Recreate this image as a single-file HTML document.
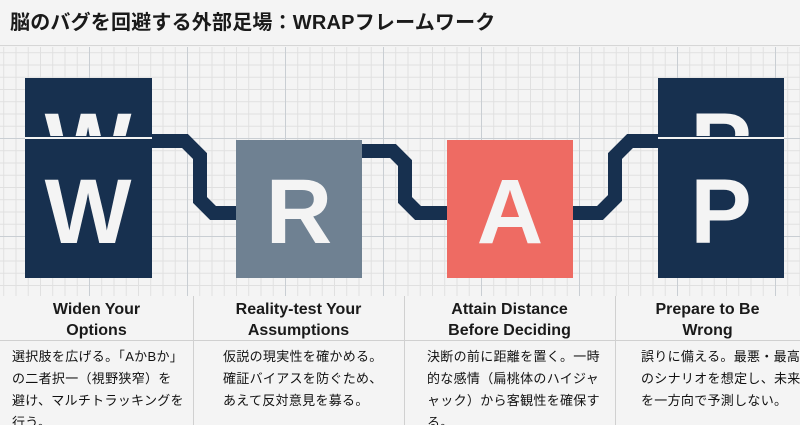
<!DOCTYPE html>
<html><head><meta charset="utf-8"><style>
*{margin:0;padding:0;box-sizing:border-box}
html,body{width:800px;height:425px;overflow:hidden}
body{background:#f3f3f3;font-family:"Liberation Sans","Noto Sans CJK JP",sans-serif;position:relative}
.title{position:absolute;left:0;top:0;width:800px;height:46px;background:#f4f4f4;border-bottom:1px solid #d6d6d6;font-weight:bold;font-size:20px;line-height:46px;padding-left:10px;color:#1a1a1a;letter-spacing:0.2px}
.grid{position:absolute;left:0;top:47px;width:800px;height:378px;
background-color:#f4f4f4;
background-image:linear-gradient(#c9ced3 1px,transparent 1px),linear-gradient(90deg,#c9ced3 1px,transparent 1px),linear-gradient(#e0e0e0 1px,transparent 1px),linear-gradient(90deg,#e0e0e0 1px,transparent 1px);
background-size:98px 98px,98px 98px,12.25px 12.25px,12.25px 12.25px;background-position:-9px -7px,-9px -7px,-9px -7px,-9px -7px}
.bottom{position:absolute;left:0;top:296px;width:800px;height:129px;background:#f4f4f4}
.h{position:absolute;top:0;height:44px;text-align:center;font-weight:bold;font-size:16px;line-height:21px;color:#1a1a1a;padding-top:3px}
.b{position:absolute;font-size:13px;letter-spacing:0.3px;line-height:22px;color:#111;white-space:nowrap}
.vl{position:absolute;top:296px;width:1px;height:129px;background:#d0d0d0}
</style></head><body>
<div class="title">脳のバグを回避する外部足場：WRAPフレームワーク</div>
<div class="grid"></div>
<svg style="position:absolute;left:0;top:0" width="800" height="300">
<g fill="none" stroke="#17304f" stroke-width="14" stroke-linejoin="miter">
<path d="M150 141 H185 L200 156 V200 L213 213 H238"/>
<path d="M360 151 H393 L405 163 V200 L418 213 H449"/>
<path d="M571 213 H600 L615 198 V156 L630 141 H660"/>
</g>
<rect x="25" y="78" width="127" height="200" fill="#17304f"/>
<rect x="658" y="78" width="126" height="200" fill="#17304f"/>
<rect x="236" y="140" width="126" height="138" fill="#6f8192"/>
<rect x="447" y="140" width="126" height="138" fill="#ee6b63"/>
<clipPath id="c1"><rect x="25" y="78" width="127" height="58"/></clipPath>
<clipPath id="c2"><rect x="658" y="78" width="126" height="58"/></clipPath>
<g font-family="Liberation Sans,sans-serif" font-weight="bold" font-size="92" fill="#f4f4f4" text-anchor="middle">
<text x="88" y="177" clip-path="url(#c1)">W</text>
<text x="721" y="177" clip-path="url(#c2)">P</text>
<text x="88" y="243">W</text>
<text x="299" y="243">R</text>
<text x="510" y="243">A</text>
<text x="721" y="243">P</text>
</g>
<rect x="25" y="137" width="127" height="2" fill="#f4f4f4"/>
<rect x="658" y="137" width="126" height="2" fill="#f4f4f4"/>
</svg>
<div class="bottom"></div>
<div style="position:absolute;left:0;top:340px;width:800px;height:1px;background:#d0d0d0"></div>
<div class="vl" style="left:193px"></div><div class="vl" style="left:404px"></div><div class="vl" style="left:615px"></div>
<div class="h" style="left:0;width:193px;top:296px">Widen Your<br>Options</div>
<div class="h" style="left:193px;width:211px;top:296px">Reality-test Your<br>Assumptions</div>
<div class="h" style="left:404px;width:211px;top:296px">Attain Distance<br>Before Deciding</div>
<div class="h" style="left:615px;width:185px;top:296px">Prepare to Be<br>Wrong</div>
<div class="b" style="left:12px;top:346px">選択肢を広げる。「AかBか」<br>の二者択一（視野狭窄）を<br>避け、マルチトラッキングを<br>行う。</div>
<div class="b" style="left:223px;top:346px">仮説の現実性を確かめる。<br>確証バイアスを防ぐため、<br>あえて反対意見を募る。</div>
<div class="b" style="left:427px;top:346px">決断の前に距離を置く。一時<br>的な感情（扁桃体のハイジャ<br>ャック）から客観性を確保す<br>る。</div>
<div class="b" style="left:641px;top:346px">誤りに備える。最悪・最高<br>のシナリオを想定し、未来<br>を一方向で予測しない。</div>
</body></html>
